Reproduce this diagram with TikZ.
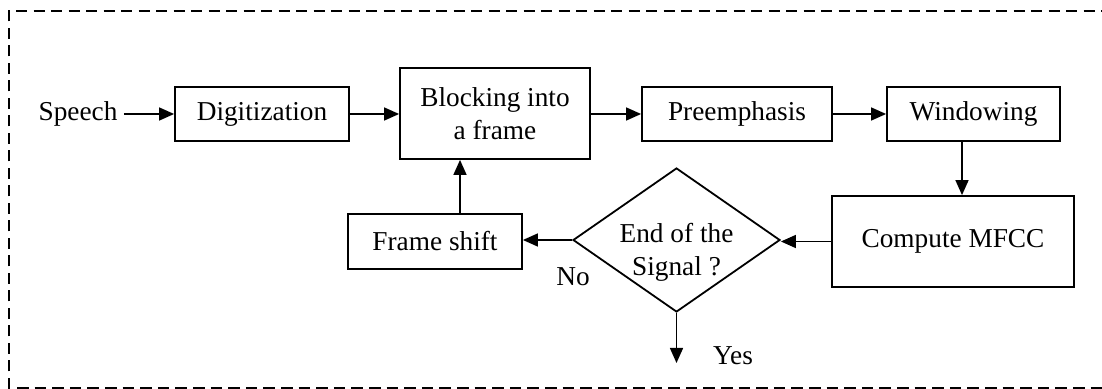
\documentclass[tikz,border=0pt]{standalone}
\usepackage{fontspec}
\setmainfont{Liberation Serif}
\usetikzlibrary{arrows.meta,shapes.geometric}
\tikzset{
  x=0.5pt, y=-0.5pt,
  every node/.style={font=\fontsize{13.65}{16.5}\selectfont},
  blockbox/.style={draw, line width=0.9pt, inner sep=0pt, align=center},
  decision/.style={draw, diamond, line width=0.9pt, inner sep=0pt},
  arr/.style={line width=0.75pt, -{Triangle[length=7.5pt,width=6.5pt]}},
  frameline/.style={line width=1.2pt, dash pattern=on 5.5pt off 3.25pt},
  frameline thin/.style={line width=0.8pt, dash pattern=on 5.8pt off 3pt},
}
\begin{document}
\begin{tikzpicture}
  \useasboundingbox (0,0) rectangle (1102,389);

  % dashed enclosure (left, top, bottom)
  \draw[frameline] (9,389) -- (9,11) -- (1102,11);
  \draw[frameline thin] (17,388) -- (1102,388);

  % processing blocks
  \node[inner sep=3pt] (speech) at (78,114) {Speech};
  \node[blockbox, minimum width=87pt, minimum height=27pt] (dig) at (262,114) {Digitization};
  \node[blockbox, minimum width=95pt, minimum height=45.5pt] (blk) at (495,113.5) {Blocking into\\a frame};
  \node[blockbox, minimum width=95pt, minimum height=27pt] (pre) at (737,114) {Preemphasis};
  \node[blockbox, minimum width=86.5pt, minimum height=27pt] (win) at (973.5,114) {Windowing};
  \node[blockbox, minimum width=121pt, minimum height=45.5pt] (mfcc) at (953,241.5) {Compute MFCC};
  \node[decision, minimum width=103.5pt, minimum height=72pt] (dec) at (676.5,240) {};
  \node[align=center, inner sep=0pt] (dectext) at (676.5,252) {End of the\\Signal ?};
  \node[blockbox, minimum width=87pt, minimum height=27.5pt] (fs) at (435,241.5) {Frame shift};
  \node[inner sep=0pt] (no) at (573,277) {No};
  \node[inner sep=0pt] (yes) at (733,356) {Yes};
  \coordinate (yesend) at (676.5,363);

  % connectors
  \draw[arr] (speech.east) -- (dig.west);
  \draw[arr] (dig.east) -- (dig.east -| blk.west);
  \draw[arr] (pre.west -| blk.east) -- (pre.west);
  \draw[arr] (pre.east) -- (win.west);
  \draw[arr] ([xshift=-5.75pt]win.south) -- ([xshift=-5.75pt]win.south |- mfcc.north);
  \draw[arr] (mfcc.west) -- (mfcc.west -| dec.east);
  \draw[arr] (dec.west) -- (dec.west -| fs.east);
  \draw[arr] ([xshift=12.5pt]fs.north) -- ([xshift=12.5pt]fs.north |- blk.south);
  \draw[arr] (dec.south) -- (yesend);
\end{tikzpicture}
\end{document}
